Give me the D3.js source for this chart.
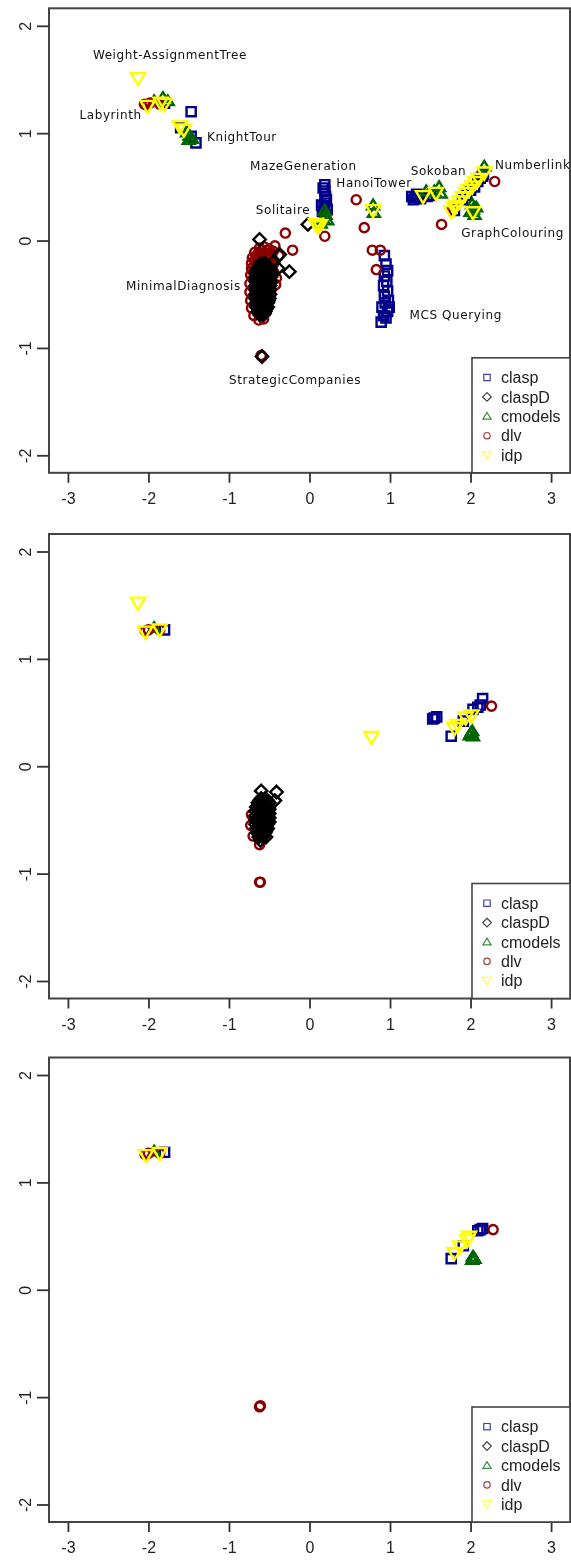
<!DOCTYPE html>
<html>
<head>
<meta charset="utf-8">
<script src="https://cdn.jsdelivr.net/npm/d3@7"></script>
<style>
  html, body { margin: 0; padding: 0; background: #fff; }
  svg { display: block; filter: blur(0.35px); }
</style>
</head>
<body>
<svg id="chart" width="571" height="1564"></svg>
<script>
// ---------------- DATA ----------------
const solvers = ["clasp", "claspD", "cmodels", "dlv", "idp"];
const xTicks = [-3, -2, -1, 0, 1, 2, 3];
const yTicks = [-2, -1, 0, 1, 2];

// Panel 1 (all instances)
const p1_clasp = [
  [-1.80, 1.28], [-1.47, 1.20], [-1.60, 1.05], [-1.47, 0.97], [-1.41, 0.91],
  [0.19, 0.52], [0.17, 0.49], [0.19, 0.46], [0.20, 0.41], [0.21, 0.38], [0.19, 0.35],
  [0.15, 0.33], [0.18, 0.31], [0.22, 0.29], [0.16, 0.27], [0.20, 0.24],
  [0.93, -0.14], [0.95, -0.22], [0.97, -0.28], [0.93, -0.33], [0.96, -0.38],
  [0.92, -0.42], [0.97, -0.47], [0.93, -0.52], [0.98, -0.56], [0.94, -0.58],
  [0.90, -0.62], [0.99, -0.62], [0.97, -0.66], [0.92, -0.70], [0.95, -0.72], [0.89, -0.76],
  [1.27, 0.41], [1.31, 0.40], [1.35, 0.41], [1.29, 0.38], [1.33, 0.43], [1.38, 0.39],
  [1.42, 0.42], [1.46, 0.41], [1.50, 0.42],
  [1.80, 0.28], [1.90, 0.38], [1.95, 0.42], [2.00, 0.47], [2.05, 0.50], [2.09, 0.55],
  [2.12, 0.58], [2.15, 0.60], [2.16, 0.62]
];
const p1_claspD = [
  [-0.02, 0.15], [-0.62, 0.01], [-0.37, -0.13], [-0.45, -0.20], [-0.56, -0.21],
  [-0.39, -0.26], [-0.25, -0.29],
  [-0.61, -0.22], [-0.55, -0.22],
  [-0.62, -0.24], [-0.57, -0.24], [-0.52, -0.24],
  [-0.64, -0.26], [-0.59, -0.26], [-0.54, -0.26], [-0.49, -0.26],
  [-0.65, -0.28], [-0.61, -0.28], [-0.56, -0.28], [-0.51, -0.28],
  [-0.66, -0.30], [-0.61, -0.30], [-0.56, -0.30], [-0.51, -0.30], [-0.47, -0.30],
  [-0.64, -0.32], [-0.59, -0.32], [-0.54, -0.32], [-0.49, -0.32],
  [-0.67, -0.34], [-0.62, -0.34], [-0.57, -0.34], [-0.52, -0.34], [-0.48, -0.34],
  [-0.65, -0.36], [-0.60, -0.36], [-0.55, -0.36], [-0.50, -0.36],
  [-0.67, -0.38], [-0.62, -0.38], [-0.57, -0.38], [-0.52, -0.38], [-0.48, -0.38],
  [-0.65, -0.40], [-0.60, -0.40], [-0.55, -0.40], [-0.50, -0.40],
  [-0.67, -0.42], [-0.63, -0.42], [-0.58, -0.42], [-0.53, -0.42], [-0.49, -0.42],
  [-0.65, -0.44], [-0.60, -0.44], [-0.55, -0.44], [-0.51, -0.44],
  [-0.67, -0.46], [-0.63, -0.46], [-0.58, -0.46], [-0.53, -0.46], [-0.49, -0.46],
  [-0.65, -0.48], [-0.60, -0.48], [-0.55, -0.48], [-0.51, -0.48],
  [-0.67, -0.50], [-0.63, -0.50], [-0.58, -0.50], [-0.53, -0.50], [-0.49, -0.50],
  [-0.65, -0.52], [-0.60, -0.52], [-0.55, -0.52], [-0.51, -0.52],
  [-0.67, -0.54], [-0.63, -0.54], [-0.58, -0.54], [-0.53, -0.54], [-0.50, -0.54],
  [-0.64, -0.56], [-0.60, -0.56], [-0.55, -0.56], [-0.51, -0.56],
  [-0.66, -0.58], [-0.62, -0.58], [-0.57, -0.58], [-0.52, -0.58],
  [-0.64, -0.60], [-0.59, -0.60], [-0.54, -0.60],
  [-0.66, -0.62], [-0.61, -0.62], [-0.56, -0.62], [-0.52, -0.62],
  [-0.63, -0.64], [-0.58, -0.64], [-0.54, -0.64],
  [-0.64, -0.66], [-0.60, -0.66], [-0.55, -0.66],
  [-0.60, -0.68], [-0.56, -0.68],
  [-0.62, -0.69], [-0.57, -0.69],
  [-0.59, -1.08]
];
const p1_cmodels = [
  [-1.93, 1.30], [-1.82, 1.33], [-1.76, 1.30],
  [-1.52, 1.01], [-1.49, 0.98], [-1.46, 0.95], [-1.50, 0.94],
  [0.19, 0.28], [0.20, 0.24], [0.17, 0.20], [0.14, 0.16], [0.22, 0.19],
  [0.79, 0.33], [0.80, 0.26],
  [1.45, 0.46], [1.55, 0.46], [1.61, 0.50], [1.63, 0.44],
  [2.17, 0.69],
  [2.00, 0.27], [2.03, 0.29], [2.05, 0.24], [2.07, 0.31], [2.02, 0.34]
];
const p1_dlv = [
  [-2.05, 1.27], [-2.02, 1.26], [-1.98, 1.28], [-1.86, 1.27],
  [0.19, 0.04], [0.58, 0.38], [0.68, 0.12], [-0.30, 0.07], [-0.21, -0.09],
  [-0.43, -0.05], [-0.38, -0.14],
  [0.78, -0.09], [0.88, -0.09], [0.83, -0.27],
  [-0.62, -0.07], [-0.56, -0.06], [-0.50, -0.08],
  [-0.59, -0.09], [-0.53, -0.09],
  [-0.68, -0.11], [-0.62, -0.12], [-0.56, -0.11], [-0.50, -0.12], [-0.45, -0.10],
  [-0.65, -0.13], [-0.59, -0.14], [-0.53, -0.13],
  [-0.71, -0.16], [-0.65, -0.16], [-0.59, -0.17], [-0.53, -0.16], [-0.47, -0.15],
  [-0.68, -0.18], [-0.62, -0.19], [-0.56, -0.19], [-0.50, -0.18],
  [-0.72, -0.21], [-0.66, -0.21], [-0.60, -0.22], [-0.54, -0.21], [-0.48, -0.20],
  [-0.45, -0.22], [-0.69, -0.24], [-0.63, -0.25],
  [-0.72, -0.26], [-0.66, -0.26], [-0.48, -0.25], [-0.44, -0.30], [-0.70, -0.29],
  [-0.73, -0.32], [-0.74, -0.40], [-0.74, -0.48], [-0.73, -0.56], [-0.72, -0.63],
  [-0.69, -0.70], [-0.63, -0.74], [-0.57, -0.73],
  [-0.41, -0.35], [-0.42, -0.41],
  [-0.59, -1.08], [-0.60, -1.07],
  [2.30, 0.55], [1.64, 0.15], [1.77, 0.29]
];
const p1_idp = [
  [-2.13, 1.51], [-2.01, 1.25], [-1.85, 1.28], [-1.80, 1.27],
  [-1.61, 1.06], [-1.56, 1.03],
  [0.08, 0.15], [0.10, 0.13], [0.13, 0.14],
  [0.79, 0.28],
  [1.41, 0.41], [1.57, 0.44],
  [2.17, 0.63],
  [1.76, 0.27], [1.80, 0.30], [1.82, 0.32], [1.86, 0.36], [1.90, 0.40], [1.94, 0.44],
  [1.98, 0.47], [2.02, 0.50], [2.06, 0.54], [2.10, 0.57], [2.03, 0.26]
];

// Panel 2
const p2_clasp = [
  [-1.80, 1.27],
  [1.53, 0.44], [1.55, 0.45], [1.58, 0.46],
  [1.76, 0.28], [1.91, 0.42], [2.03, 0.53], [2.09, 0.55], [2.12, 0.57], [2.15, 0.63]
];
const p2_claspD = [
  [-0.60, -0.23], [-0.41, -0.24], [-0.43, -0.32],
  [-0.60, -0.30], [-0.55, -0.30],
  [-0.62, -0.32], [-0.57, -0.32], [-0.52, -0.32],
  [-0.64, -0.34], [-0.59, -0.34], [-0.54, -0.34], [-0.50, -0.34],
  [-0.63, -0.36], [-0.58, -0.36], [-0.53, -0.36],
  [-0.66, -0.38], [-0.61, -0.38], [-0.56, -0.38], [-0.51, -0.38],
  [-0.64, -0.40], [-0.59, -0.40], [-0.54, -0.40], [-0.50, -0.40],
  [-0.67, -0.42], [-0.62, -0.42], [-0.57, -0.42], [-0.52, -0.42],
  [-0.64, -0.44], [-0.59, -0.44], [-0.54, -0.44], [-0.50, -0.44],
  [-0.67, -0.46], [-0.62, -0.46], [-0.57, -0.46], [-0.52, -0.46],
  [-0.64, -0.48], [-0.59, -0.48], [-0.54, -0.48], [-0.50, -0.48],
  [-0.67, -0.50], [-0.62, -0.50], [-0.57, -0.50], [-0.52, -0.50],
  [-0.64, -0.52], [-0.59, -0.52], [-0.54, -0.52], [-0.50, -0.52],
  [-0.67, -0.54], [-0.62, -0.54], [-0.57, -0.54], [-0.52, -0.54],
  [-0.64, -0.56], [-0.59, -0.56], [-0.54, -0.56],
  [-0.66, -0.58], [-0.61, -0.58], [-0.56, -0.58], [-0.52, -0.58],
  [-0.63, -0.60], [-0.58, -0.60], [-0.54, -0.60],
  [-0.65, -0.62], [-0.60, -0.62], [-0.55, -0.62],
  [-0.62, -0.64], [-0.57, -0.64],
  [-0.63, -0.66], [-0.58, -0.66], [-0.54, -0.66],
  [-0.61, -0.69]
];
const p2_cmodels = [
  [-1.93, 1.29], [1.99, 0.29], [2.01, 0.31], [2.03, 0.28], [2.02, 0.33]
];
const p2_dlv = [
  [-2.04, 1.26], [-2.00, 1.27], [-1.86, 1.27],
  [-0.72, -0.45], [-0.73, -0.55], [-0.70, -0.65], [-0.62, -0.73],
  [-0.62, -1.08], [-0.61, -1.08],
  [2.26, 0.56]
];
const p2_idp = [
  [-2.13, 1.52], [-2.04, 1.25], [-1.86, 1.27],
  [0.77, 0.27],
  [1.80, 0.35], [1.84, 0.38], [1.94, 0.45], [2.01, 0.47]
];

// Panel 3
const p3_clasp = [
  [-1.80, 1.28], [1.76, 0.29], [1.91, 0.41], [2.09, 0.55], [2.12, 0.56], [2.15, 0.57]
];
const p3_claspD = [];
const p3_cmodels = [
  [-1.93, 1.29], [2.02, 0.28], [2.03, 0.31], [2.05, 0.29]
];
const p3_dlv = [
  [-2.04, 1.26], [-2.00, 1.27], [-1.86, 1.27],
  [-0.62, -1.09], [-0.61, -1.08],
  [2.28, 0.56]
];
const p3_idp = [
  [-2.03, 1.25], [-1.86, 1.27],
  [1.80, 0.34], [1.87, 0.40], [1.96, 0.46], [1.98, 0.49]
];

// Labels of the first panel (name, x, y in data units)
const labelNames = ["Weight-AssignmentTree", "Labyrinth", "KnightTour", "MazeGeneration",
  "HanoiTower", "Sokoban", "Numberlink", "Solitaire", "GraphColouring",
  "MinimalDiagnosis", "MCS Querying", "StrategicCompanies"];
const labelX = [-1.733, -2.47, -0.839, -0.076, 0.801, 1.602, 2.304, -0.329, 2.522, -1.566, 1.815, -0.180];
const labelY = [1.727, 1.169, 0.967, 0.698, 0.540, 0.651, 0.704, 0.286, 0.074, -0.421, -0.691, -1.296];
const labelAnchor = ["middle", "middle", "middle", "middle", "middle", "middle", "start",
  "middle", "middle", "middle", "middle", "middle"];

// ---------------- DRAWING ----------------
const panels = [
  { top: 8.3, data: [p1_clasp, p1_claspD, p1_cmodels, p1_dlv, p1_idp], labels: true },
  { top: 534, data: [p2_clasp, p2_claspD, p2_cmodels, p2_dlv, p2_idp], labels: false },
  { top: 1057.5, data: [p3_clasp, p3_claspD, p3_cmodels, p3_dlv, p3_idp], labels: false }
];

const style = {
  clasp:   { color: "#00008B", shape: "square" },
  claspD:  { color: "#000000", shape: "diamond" },
  cmodels: { color: "#006400", shape: "triangle" },
  dlv:     { color: "#8B0000", shape: "circle" },
  idp:     { color: "#FFFF00", shape: "down" }
};

function shapePath(shape, s) {
  switch (shape) {
    case "square": return `M${-s},${-s}H${s}V${s}H${-s}Z`;
    case "diamond": { const d = s * 1.35; return `M0,${-d}L${d},0L0,${d}L${-d},0Z`; }
    case "triangle": { const h = s * 1.2; return `M0,${-h}L${h * 1.08},${h * 0.75}L${-h * 1.08},${h * 0.75}Z`; }
    case "down": { const h = s * 1.3; return `M0,${h}L${h * 1.05},${-h * 0.8}L${-h * 1.05},${-h * 0.8}Z`; }
    case "circle": return `M${s},0A${s},${s} 0 1,1 ${-s},0A${s},${s} 0 1,1 ${s},0Z`;
  }
}

const svg = d3.select("#chart");
const W = { left: 49, right: 570 };
const plotH = 464.5;
const drawOrder = [0, 2, 3, 1, 4]; // clasp, cmodels, dlv, claspD, idp

panels.forEach(p => {
  const x = d3.scaleLinear().domain([-3.235, 3.235]).range([W.left, W.right]);
  const y = d3.scaleLinear().domain([-2.163, 2.163]).range([p.top + plotH, p.top]);
  const g = svg.append("g");

  drawOrder.forEach(i => {
    const name = solvers[i];
    const st = style[name];
    g.append("g").selectAll("path").data(p.data[i]).join("path")
      .attr("d", shapePath(st.shape, name === "idp" ? 5.2 : 4.6))
      .attr("transform", d => `translate(${x(d[0])},${y(d[1])})`)
      .attr("fill", "none")
      .attr("stroke", st.color)
      .attr("stroke-width", 2.4);
  });

  if (p.labels) {
    g.append("g").selectAll("text").data(labelNames).join("text")
      .attr("x", (d, i) => x(labelX[i]))
      .attr("y", (d, i) => y(labelY[i]))
      .attr("dy", "0.36em")
      .attr("text-anchor", (d, i) => labelAnchor[i])
      .attr("font-family", "DejaVu Sans")
      .attr("font-size", 12)
      .attr("letter-spacing", 0.6)
      .attr("fill", "#111")
      .text(d => d);
  }

  g.append("rect")
    .attr("x", W.left).attr("y", p.top)
    .attr("width", W.right - W.left).attr("height", plotH)
    .attr("fill", "none").attr("stroke", "#444").attr("stroke-width", 2);

  const xa = g.append("g")
    .attr("transform", `translate(0,${p.top + plotH})`)
    .call(d3.axisBottom(x).tickValues(xTicks).tickSize(10).tickPadding(10).tickFormat(d3.format("d")));
  xa.select(".domain").remove();
  xa.selectAll(".tick line").attr("stroke", "#333").attr("stroke-width", 1.8);
  xa.selectAll(".tick text").attr("font-family", "Liberation Sans, Arial, sans-serif")
    .attr("font-size", 16).attr("fill", "#222").text(d => d < 0 ? "-" + Math.abs(d) : d);

  const ya = g.append("g")
    .attr("transform", `translate(${W.left},0)`)
    .call(d3.axisLeft(y).tickValues(yTicks).tickSize(12).tickFormat(d3.format("d")));
  ya.select(".domain").remove();
  ya.selectAll(".tick line").attr("stroke", "#333").attr("stroke-width", 1.8);
  ya.selectAll(".tick text")
    .attr("font-family", "Liberation Sans, Arial, sans-serif")
    .attr("font-size", 16).attr("fill", "#222")
    .attr("text-anchor", "middle")
    .attr("x", null)
    .attr("transform", "translate(-24,0) rotate(-90)")
    .attr("y", 0)
    .attr("dy", "0.35em")
    .text(d => d < 0 ? "-" + Math.abs(d) : d);

  const lg = g.append("g");
  const legTop = p.top + plotH - 115;
  lg.append("rect")
    .attr("x", 472).attr("y", legTop)
    .attr("width", W.right - 472).attr("height", 115)
    .attr("fill", "#fff").attr("stroke", "#444").attr("stroke-width", 1.6);
  solvers.forEach((name, i) => {
    const st = style[name];
    const cy = legTop + 19.7 + i * 19.4;
    lg.append("path")
      .attr("d", shapePath(st.shape, 3.2))
      .attr("transform", `translate(487,${cy})`)
      .attr("fill", "none").attr("stroke", st.color).attr("stroke-width", 1.2)
      .attr("stroke-opacity", 0.75);
    lg.append("text")
      .attr("x", 501).attr("y", cy).attr("dy", "0.35em")
      .attr("font-family", "Liberation Sans, Arial, sans-serif")
      .attr("font-size", 16).attr("fill", "#222")
      .text(name);
  });
});
</script>
</body>
</html>
